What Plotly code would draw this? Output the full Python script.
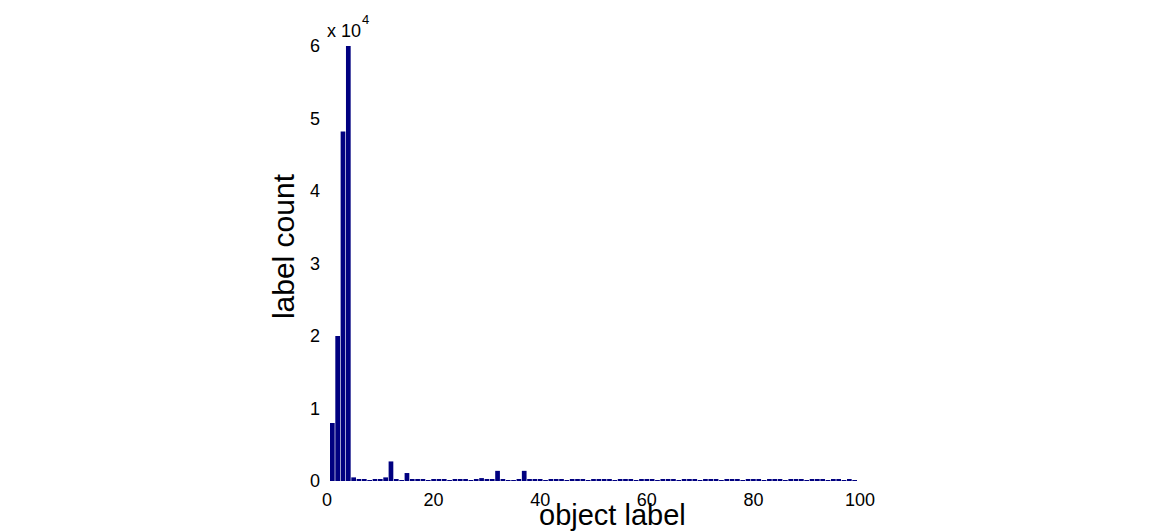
import plotly.graph_objects as go

labels = list(range(1, 101))
counts = [
    8000, 20000, 48200, 60000, 500, 200, 200, 80, 200, 200,
    500, 2700, 200, 80, 1100, 200, 200, 200, 80, 200,
    200, 200, 80, 200, 200, 200, 80, 200, 400, 200,
    200, 1400, 200, 80, 80, 200, 1400, 200, 200, 200,
    80, 200, 200, 200, 80, 200, 200, 200, 80, 200,
    200, 200, 200, 80, 200, 200, 200, 80, 200, 200,
    200, 80, 200, 200, 200, 80, 200, 200, 200, 80,
    200, 200, 200, 80, 200, 200, 200, 80, 200, 200,
    200, 80, 200, 200, 200, 80, 200, 200, 200, 80,
    200, 200, 200, 80, 200, 200, 80, 200, 80, 0,
]
y_tickvals = [0, 10000, 20000, 30000, 40000, 50000, 60000]
y_ticktext = ["0", "1", "2", "3", "4", "5", "6"]
x_tickvals = [0, 20, 40, 60, 80, 100]

fig = go.Figure(go.Bar(x=labels, y=counts, marker=dict(color="#000080", line=dict(width=0))))

font = "Liberation Sans, Arial, sans-serif"
fig.update_layout(
    width=1150, height=531,
    margin=dict(l=327, r=290, t=46, b=50),
    plot_bgcolor="white", paper_bgcolor="white",
    bargap=0.12,
    showlegend=False,
    font=dict(family=font, color="black", size=18),
    xaxis=dict(range=[0, 100], tickvals=x_tickvals, showgrid=False, zeroline=False,
               showline=False, ticks="", tickfont=dict(size=18), ticklabelstandoff=6),
    yaxis=dict(range=[0, 60000], tickvals=y_tickvals, ticktext=y_ticktext, showgrid=False,
               zeroline=False, showline=False, ticks="", tickfont=dict(size=18),
               ticklabelstandoff=6),
)
fig.add_annotation(text="object label", xref="paper", yref="paper", x=0.536, y=0,
                   yshift=-34, yanchor="middle", showarrow=False, font=dict(size=29))
fig.add_annotation(text="label count", xref="paper", yref="paper", x=0, xshift=-44, y=0.54,
                   textangle=-90, xanchor="center", yanchor="middle", showarrow=False,
                   font=dict(size=30))
fig.add_annotation(text="x 10", xref="paper", yref="paper", x=0, y=1, xshift=-2,
                   xanchor="left", yanchor="bottom", yshift=3, showarrow=False, font=dict(size=18))
fig.add_annotation(text="4", xref="paper", yref="paper", x=0, y=1, xshift=33,
                   xanchor="left", yanchor="bottom", yshift=17, showarrow=False, font=dict(size=13))
fig.write_html("out.html")
